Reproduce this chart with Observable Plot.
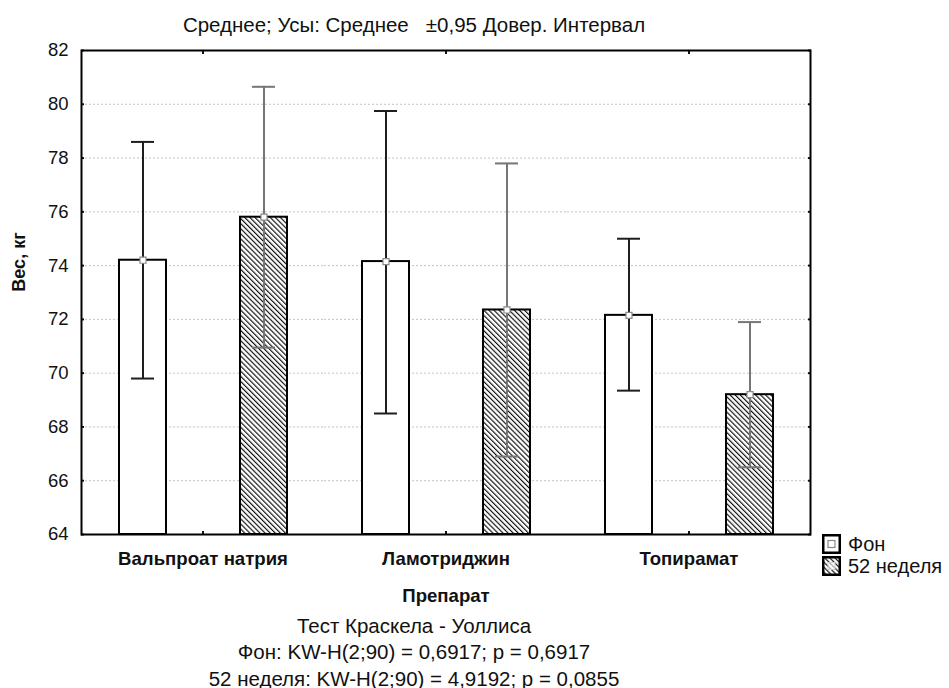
<!DOCTYPE html>
<html><head><meta charset="utf-8">
<script src="https://cdn.jsdelivr.net/npm/d3@7"></script>
<script src="https://cdn.jsdelivr.net/npm/@observablehq/plot@0.6"></script>
<style>
body{margin:0;background:#fff;font-family:"Liberation Sans",Arial,sans-serif;color:#111;}
#wrap{position:relative;width:949px;height:688px;overflow:hidden;}
#title{position:absolute;left:0;width:828px;top:12px;text-align:center;font-size:20.5px;line-height:26.5px;white-space:pre;}
#chart{position:absolute;left:0;top:0;}
#ylabel{position:absolute;left:19px;top:262px;transform:translate(-50%,-50%) rotate(-90deg);font-size:18px;font-weight:bold;white-space:nowrap;}
#notes{position:absolute;left:0;width:828px;top:612.5px;text-align:center;font-size:20.5px;line-height:26.5px;white-space:nowrap;}
#legend{position:absolute;left:822px;top:532.5px;font-size:20px;line-height:22.5px;white-space:nowrap;}
#legend div{display:flex;align-items:center;gap:7px;height:22.5px;}
#legend svg{display:block;}
</style></head><body>
<div id="wrap">
  <div id="chart"></div>
  <div id="title"></div>
  <div id="ylabel"></div>
  <div id="notes"></div>
  <div id="legend"></div>
</div>
<script>
const titleText = "Среднее; Усы: Среднее   ±0,95 Довер. Интервал";
const categories = ["Вальпроат натрия", "Ламотриджин", "Топирамат"];
const groups = ["Фон", "52 неделя"];
const meanBase = [74.2, 74.15, 72.15];
const ciLowBase = [69.8, 68.5, 69.35];
const ciHighBase = [78.6, 79.75, 75.0];
const mean52 = [75.8, 72.35, 69.2];
const ciLow52 = [70.95, 66.9, 66.5];
const ciHigh52 = [80.65, 77.8, 71.9];
const yDomain = [64, 82];
const yTicks = [64, 66, 68, 70, 72, 74, 76, 78, 80, 82];
const yLabel = "Вес, кг";
const xLabel = "Препарат";
const notes = [
  "Тест Краскела - Уоллиса",
  "Фон: KW-H(2;90) = 0,6917; p = 0,6917",
  "52 неделя: KW-H(2;90) = 4,9192; p = 0,0855"
];

const rows = [];
categories.forEach((c, i) => {
  rows.push({cat: c, group: groups[0], mean: meanBase[i], lo: ciLowBase[i], hi: ciHighBase[i]});
  rows.push({cat: c, group: groups[1], mean: mean52[i], lo: ciLow52[i], hi: ciHigh52[i]});
});
const isBase = d => d.group === groups[0];
const is52 = d => d.group === groups[1];
const noText = () => "";

function errMarks(filter, color) {
  return [
    Plot.ruleX(rows, {filter, fx: "cat", x: "group", y1: "lo", y2: "hi", stroke: color, strokeWidth: 2}),
    Plot.tickY(rows, {filter, fx: "cat", x: "group", y: "lo", stroke: color, strokeWidth: 2, insetLeft: 12, insetRight: 12}),
    Plot.tickY(rows, {filter, fx: "cat", x: "group", y: "hi", stroke: color, strokeWidth: 2, insetLeft: 12, insetRight: 12})
  ];
}

const plot = Plot.plot({
  width: 949, height: 610,
  marginLeft: 80, marginRight: 138, marginTop: 50, marginBottom: 76,
  style: {fontSize: "18.5px", fontFamily: "'Liberation Sans', Arial, sans-serif", background: "transparent", color: "#111", overflow: "visible"},
  fx: {domain: categories, padding: 0},
  x: {domain: groups, paddingInner: 0.614, paddingOuter: 0.307, axis: null},
  y: {domain: yDomain},
  marks: [
    Plot.gridY(yTicks, {stroke: "#c4c4c4", strokeOpacity: 1, strokeDasharray: "2,2", strokeWidth: 1}),
    Plot.barY(rows, {filter: isBase, fx: "cat", x: "group", y1: yDomain[0], y2: "mean", fill: "white", stroke: "black", strokeWidth: 2}),
    Plot.barY(rows, {filter: is52, fx: "cat", x: "group", y1: yDomain[0], y2: "mean", fill: "url(#hatch)", stroke: "black", strokeWidth: 2}),
    ...errMarks(isBase, "#1e1e1e"),
    ...errMarks(is52, "#767676"),
    Plot.dot(rows, {fx: "cat", x: "group", y: "mean", symbol: "square", r: 3.4, fill: "white", stroke: "#8a8a8a", strokeWidth: 1.2}),
    Plot.axisY(yTicks, {anchor: "left", tickSize: 0, tickPadding: 13, fontSize: 18.5, label: null}),
    Plot.axisY(yTicks, {anchor: "left", tickSize: 3, dx: 3, tickFormat: noText, label: null, strokeWidth: 2}),
    Plot.axisY(yTicks, {anchor: "right", tickSize: 3, dx: -3, tickFormat: noText, label: null, strokeWidth: 2}),
    Plot.axisFx({anchor: "bottom", tickSize: 0, tickPadding: 17, fontWeight: "bold", fontSize: 18.6, label: xLabel, labelAnchor: "center", labelOffset: 67, labelArrow: "none"}),
    Plot.axisFx({anchor: "bottom", tickSize: 3, dy: -3, tickFormat: noText, label: null, strokeWidth: 2}),
    Plot.axisFx({anchor: "top", tickSize: 3, dy: 3, tickFormat: noText, label: null, strokeWidth: 2}),
    Plot.frame({facet: "super", stroke: "black", strokeWidth: 2})
  ]
});

// hatch pattern
const ns = "http://www.w3.org/2000/svg";
const svgEl = plot.tagName.toLowerCase() === "svg" ? plot : plot.querySelector("svg");
const defs = document.createElementNS(ns, "defs");
defs.innerHTML = `<pattern id="hatch" patternUnits="userSpaceOnUse" width="3.6" height="3.6" patternTransform="rotate(-45)">
  <rect width="3.6" height="3.6" fill="white"/><line x1="0.6" y1="0" x2="0.6" y2="3.6" stroke="black" stroke-width="1.1"/></pattern>`;
svgEl.insertBefore(defs, svgEl.firstChild);
document.getElementById("chart").appendChild(plot);

document.getElementById("title").textContent = titleText;
document.getElementById("ylabel").textContent = yLabel;
document.getElementById("notes").innerHTML = notes.map(t => `<div>${t}</div>`).join("");

const legend = document.getElementById("legend");
legend.innerHTML = `
<div><svg width="19" height="20"><rect x="1.25" y="1.25" width="16.5" height="17.5" fill="white" stroke="black" stroke-width="2.5"/><rect x="6" y="6.5" width="7" height="7" fill="white" stroke="#8a8a8a" stroke-width="1.2"/></svg><span>${groups[0]}</span></div>
<div><svg width="19" height="20"><rect x="1.25" y="1.25" width="16.5" height="17.5" fill="url(#hatch)" stroke="black" stroke-width="2.5"/><rect x="6" y="6.5" width="7" height="7" fill="white" fill-opacity="0.6" stroke="#cfcfcf" stroke-width="1"/></svg><span>${groups[1]}</span></div>`;
</script>
</body></html>
